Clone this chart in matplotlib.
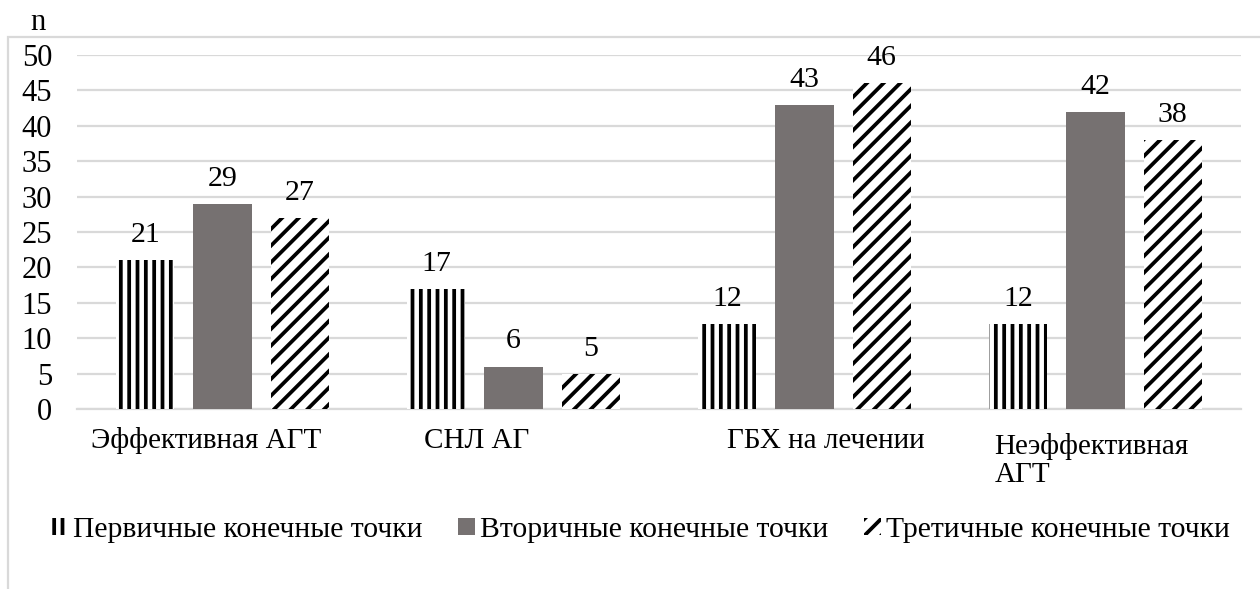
import matplotlib
matplotlib.use("Agg")
import matplotlib.pyplot as plt
import numpy as np
from matplotlib.patches import Rectangle
from matplotlib.transforms import offset_copy

plt.rcParams["font.family"] = ["Liberation Serif", "DejaVu Serif"]
plt.rcParams["hatch.linewidth"] = 2.7

# ---- data -------------------------------------------------------------
categories = ["Эффективная АГТ", "СНЛ АГ", "ГБХ на лечении", "Неэффективная\nАГТ"]
series_names = ["Первичные конечные точки", "Вторичные конечные точки",
                "Третичные конечные точки"]
primary = [21, 17, 12, 12]
secondary = [29, 6, 43, 42]
tertiary = [27, 5, 46, 38]
y_ticks = [0, 5, 10, 15, 20, 25, 30, 35, 40, 45, 50]
y_label = "n"

# ---- style ------------------------------------------------------------
FS = 21
GRID = "#d9d9d9"
GRAY = "#767171"
series_styles = [
    dict(facecolor="white", edgecolor="black", hatch="||", linewidth=0),
    dict(facecolor=GRAY, edgecolor=GRAY, linewidth=0),
    dict(facecolor="white", edgecolor="black", hatch="//", linewidth=0),
]
bar_width = 0.2
bar_offsets = [-0.265, 0.0, 0.265]
# per-label shift (pixels) of the category captions, measured to the last line
label_shift = [(-16, -39), (-37, -39), (21, -39), (-4, -73)]

W, H = 1260, 589
fig = plt.figure(figsize=(W / 100, H / 100), dpi=100)
ax = fig.add_axes([77 / W, 1 - 409 / H, (1241 - 77) / W, (409 - 55) / H])

x = np.arange(len(categories))
all_series = [primary, secondary, tertiary]
for vals, off, style, name in zip(all_series, bar_offsets, series_styles, series_names):
    bars = ax.bar(x + off, vals, width=bar_width, label=name, zorder=3, **style)
    for rect, v in zip(bars, vals):
        ax.annotate(str(v), (rect.get_x() + rect.get_width() / 2, v),
                    xytext=(0, 13), textcoords="offset points",
                    ha="center", va="baseline", fontsize=FS + 0.5)

ax.set_xlim(-0.5, len(categories) - 0.5)
ax.set_ylim(0, 50)
ax.set_yticks(y_ticks)
ax.set_xticks([])
ax.tick_params(axis="y", length=0, labelsize=FS + 1, pad=18)
ax.yaxis.grid(True, color=GRID, linewidth=1.6)
ax.set_axisbelow(True)
for side in ("top", "right", "left"):
    ax.spines[side].set_visible(False)
ax.spines["bottom"].set_color(GRID)
ax.spines["bottom"].set_linewidth(1.6)

for i, (lab, (dx, dy)) in enumerate(zip(categories, label_shift)):
    tr = offset_copy(ax.transData, fig=fig, x=dx, y=dy, units="dots")
    ax.text(i, 0, lab, transform=tr, ha="center", va="baseline",
            multialignment="left", fontsize=FS, linespacing=1.12, clip_on=False)

fig.text(30 / W, 1 - 30 / H, y_label, fontsize=FS + 1, ha="left", va="baseline")

# outer chart frame
fig.add_artist(Rectangle((8 / W, -0.2), 1.2, 1 - 37 / H + 0.2,
                         transform=fig.transFigure, fill=False,
                         edgecolor=GRID, linewidth=1.6))

fig.legend(loc="center", bbox_to_anchor=(640 / W, 1 - 530 / H), ncol=3,
           frameon=False, fontsize=FS + 0.3, handlelength=0.6, handleheight=0.5,
           handletextpad=0.15, columnspacing=1.2, borderaxespad=0)

fig.savefig("out.png", dpi=100)
